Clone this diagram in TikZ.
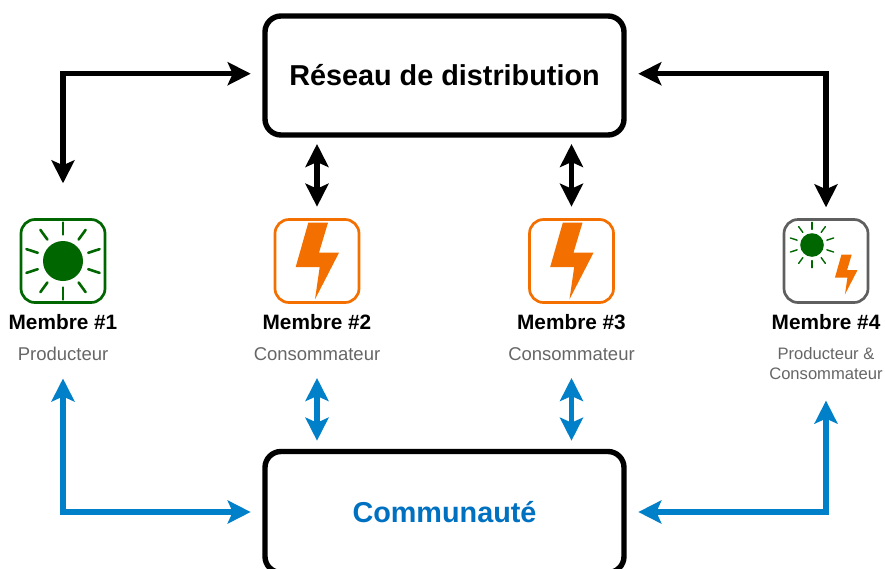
\documentclass[tikz,border=0pt]{standalone}
\usepackage{fontspec}
\setmainfont{Liberation Sans}
\usetikzlibrary{arrows.meta}
\definecolor{sungreen}{RGB}{0,102,0}
\definecolor{boltorange}{RGB}{243,112,0}
\definecolor{commblue}{RGB}{0,128,200}
\definecolor{commtext}{RGB}{0,112,192}
\definecolor{memgray}{RGB}{95,95,95}
\definecolor{subgray}{RGB}{102,102,102}
\tikzset{
	mainbox/.style={draw,line width=5.4pt,rounded corners=16pt,minimum width=359pt,inner sep=0pt,outer sep=0pt,font=\fontsize{28.8}{30}\selectfont\bfseries},
	iconbox/.style={draw,line width=2.7pt,rounded corners=14pt,minimum width=84pt,minimum height=83pt,inner sep=0pt,outer sep=0pt},
	memlabel/.style={inner sep=0pt,font=\fontsize{20.8}{20.8}\selectfont\bfseries},
	sublabel/.style={anchor=north,inner sep=0pt,align=center,text=subgray,font=\fontsize{18.5}{19.5}\selectfont},
	netarrow/.style={line width=5.5pt,{Stealth[length=23pt,width=23pt,inset=5pt]}-{Stealth[length=23pt,width=23pt,inset=5pt]}},
	commarrow/.style={netarrow,commblue},
	sunicon/.pic={
		\fill[sungreen] (0,0) circle (20);
		\foreach \a in {18,54,...,342}
			\draw[sungreen,line cap=round] (\a:26.5) -- (\a:38.5);
	},
	bolticon/.pic={
		\fill[boltorange] (-8.7,-38.3) -- (11,-38.3) -- (2,-8.3) -- (22,-8.3) -- (-2,38.3) -- (2.7,6) -- (-21.3,6) -- cycle;
	}
}

\begin{document}
\begin{tikzpicture}[x=1pt,y=-1pt]
	\clip (0,0) rectangle (885,568);
	\node[mainbox,minimum height=119pt] (res) at (444.5,75.5) {Réseau de distribution};
	\node[mainbox,minimum height=121pt,text=commtext] (com) at (444.5,512) {Communauté};

	\node[iconbox,draw=sungreen] (ic1) at (63,261) {};
	\node[iconbox,draw=boltorange] (ic2) at (317,261) {};
	\node[iconbox,draw=boltorange] (ic3) at (571.5,261) {};
	\node[iconbox,draw=memgray] (ic4) at (826,261) {};
	\pic[line width=2.6pt] at (63,261) {sunicon};
	\pic at (317,261) {bolticon};
	\pic at (571.5,261) {bolticon};
	\pic[scale=.59,line width=1.4pt] at (812,245) {sunicon};
	\pic[scale=.52] at (846,274.5) {bolticon};

	\node[memlabel] (lab1) at (63,322.5) {Membre \#1};
	\node[memlabel] (lab2) at (317,322.5) {Membre \#2};
	\node[memlabel] (lab3) at (571.5,322.5) {Membre \#3};
	\node[memlabel] (lab4) at (826,322.5) {Membre \#4};
	\node[sublabel] (sub1) at (63,347) {Producteur};
	\node[sublabel] (sub2) at (317,347) {Consommateur};
	\node[sublabel] (sub3) at (571.5,347) {Consommateur};
	\node[sublabel,font=\fontsize{16.6}{19.5}\selectfont] (sub4) at (826,347.5) {Producteur \&\\Consommateur};

	\draw[netarrow] ([shift={(-14.3pt,1.8pt)}]res.west) -| ([yshift=36.2pt]ic1.north);
	\draw[netarrow] ([shift={(14.3pt,1.8pt)}]res.east) -| ([yshift=12.2pt]ic4.north);
	\draw[netarrow,shorten <=9pt,shorten >=12.8pt] (ic2.north |- res.south) -- (ic2.north);
	\draw[netarrow,shorten <=9pt,shorten >=12.8pt] (ic3.north |- res.south) -- (ic3.north);

	\draw[commarrow] ([xshift=-14.3pt]com.west) -| ([yshift=-17.5pt]sub1.south);
	\draw[commarrow] ([xshift=14.3pt]com.east) -| ([yshift=-21pt]sub4.south);
	\draw[commarrow,shorten <=10.8pt,shorten >=17.5pt] (sub2.south |- com.north) -- (sub2.south);
	\draw[commarrow,shorten <=10.8pt,shorten >=17.5pt] (sub3.south |- com.north) -- (sub3.south);
\end{tikzpicture}
\end{document}
